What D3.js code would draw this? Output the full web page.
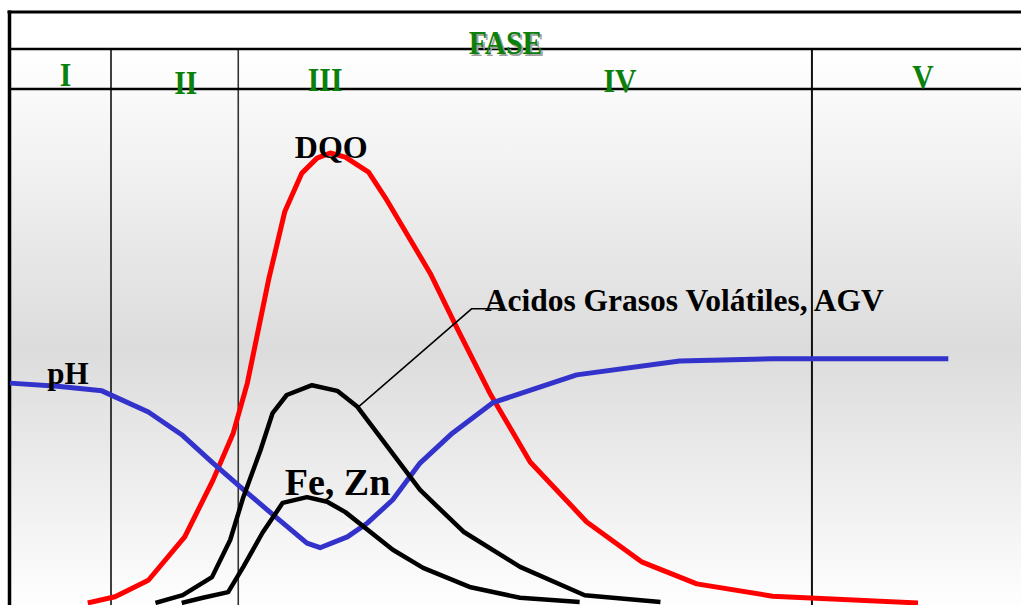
<!DOCTYPE html>
<html>
<head>
<meta charset="utf-8">
<script src="https://cdn.jsdelivr.net/npm/d3@7/dist/d3.min.js"></script>
<style>
  html, body { margin: 0; padding: 0; background: #ffffff; }
  svg { display: block; }
  text { font-family: "Liberation Serif", "Times New Roman", serif; font-weight: bold; }
</style>
</head>
<body>
<svg id="chart" width="1021" height="605"></svg>
<script>
// ---- Data (abstract units: x = time 0..100, y = relative level 0..100) ----
const phaseNames = ["I", "II", "III", "IV", "V"];
const phaseBounds = [10, 22.6, 79.4];          // boundaries between phases
const headerTitle = "FASE";

const dqo = [[7.7,0.4],[10.4,1.6],[13.7,4.8],[17.3,13.2],[20.1,24.2],[22.1,33.3],[23.5,43.0],
  [25.6,63.0],[27.2,76.2],[28.9,83.7],[30.4,86.6],[31.7,87.6],[33.2,86.8],[35.5,83.9],
  [37.3,78.5],[41.6,64.3],[44.1,54.3],[47.5,41.1],[51.5,27.7],[57.1,16.1],[62.6,8.3],
  [68.0,4.1],[75.5,1.7],[89.9,0.4]];
const ph = [[0,43.0],[4.7,42.4],[9.1,41.5],[13.7,37.4],[17.0,33.0],[20.1,27.5],[22.8,22.9],
  [25.5,18.4],[29.4,12.0],[30.7,11.1],[33.4,13.2],[35.4,15.9],[37.9,20.4],[40.6,27.5],
  [43.8,33.3],[47.8,39.2],[56.1,44.6],[66.3,47.3],[75.5,47.7],[92.9,47.7]];
const agv = [[14.4,0.4],[17.1,1.9],[20.0,5.4],[21.8,12.6],[23.1,20.9],[24.8,30.0],[26.0,37.2],
  [27.4,40.7],[29.9,42.6],[32.4,41.5],[34.4,38.4],[40.6,22.3],[44.9,14.2],[50.5,7.4],
  [56.9,1.9],[64.4,0.6]];
const feZn = [[17.0,0.4],[19.1,1.4],[21.6,2.5],[23.1,7.4],[25.0,14.0],[27.0,19.8],[29.4,20.9],
  [31.4,20.0],[33.2,18.0],[37.9,10.7],[40.9,7.2],[45.5,3.5],[50.5,1.4],[56.4,0.6]];

const seriesLabels = ["DQO", "pH", "Acidos Grasos Volátiles, AGV", "Fe, Zn"];

// ---- Layout ----
const W = 1021, H = 605;
const frameLeft = 9.5, frameTop = 12, titleBottom = 49, phaseBottom = 89;
const x = d3.scaleLinear().domain([0, 100]).range([10, 1020]);
const y = d3.scaleLinear().domain([0, 100]).range([605, 89]);

const svg = d3.select("#chart");
const defs = svg.append("defs");
const grad = defs.append("linearGradient").attr("id", "bg")
  .attr("x1", 0).attr("y1", 0).attr("x2", 0).attr("y2", 1);
grad.append("stop").attr("offset", "0").attr("stop-color", "#ffffff");
grad.append("stop").attr("offset", "0.54").attr("stop-color", "#dcdcdc");
grad.append("stop").attr("offset", "1").attr("stop-color", "#fefefe");

// background
svg.append("rect").attr("x", frameLeft).attr("y", titleBottom)
  .attr("width", W - frameLeft).attr("height", H - titleBottom)
  .attr("fill", "url(#bg)");

// phase separators
const sepStyles = [{c:"#000", w:1.5}, {c:"#333", w:1.6}, {c:"#111", w:2}];
svg.append("g").selectAll("line").data(phaseBounds).join("line")
  .attr("x1", d => x(d)).attr("x2", d => x(d))
  .attr("y1", titleBottom).attr("y2", H)
  .attr("stroke", (d, i) => sepStyles[i].c)
  .attr("stroke-width", (d, i) => sepStyles[i].w);

// frame lines
const frame = svg.append("g").attr("stroke", "#000").attr("fill", "none");
frame.append("line").attr("x1", frameLeft - 2).attr("x2", W).attr("y1", frameTop).attr("y2", frameTop).attr("stroke-width", 3);
frame.append("line").attr("x1", frameLeft).attr("x2", W).attr("y1", titleBottom).attr("y2", titleBottom).attr("stroke-width", 2.5);
frame.append("line").attr("x1", frameLeft).attr("x2", W).attr("y1", phaseBottom).attr("y2", phaseBottom).attr("stroke-width", 2.5);
frame.append("line").attr("x1", frameLeft).attr("x2", frameLeft).attr("y1", frameTop - 1.5).attr("y2", H).attr("stroke-width", 3.5);

// header title with shadow
const tx = 505.5, ty = 54;
svg.append("text").attr("transform", `translate(${tx + 2},${ty + 2}) scale(0.9,1)`)
  .attr("text-anchor", "middle").attr("font-size", 33).attr("fill", "#a0a0a0").text(headerTitle);
svg.append("text").attr("transform", `translate(${tx},${ty}) scale(0.9,1)`)
  .attr("text-anchor", "middle").attr("font-size", 33).attr("fill", "#0b800b").text(headerTitle);

// phase labels
const phaseLabelPos = [[5.5, 86], [17.4, 94], [31.2, 90.5], [60.4, 92], [90.4, 87.5]];
svg.append("g").selectAll("text").data(phaseNames).join("text")
  .attr("transform", (d, i) => `translate(${x(phaseLabelPos[i][0])},${phaseLabelPos[i][1]}) scale(0.9,1)`)
  .attr("text-anchor", "middle").attr("font-size", 33).attr("fill", "#0b800b")
  .text(d => d);

// curves
const line = d3.line().x(d => x(d[0])).y(d => y(d[1])).curve(d3.curveLinear);
const curves = [
  {data: dqo, color: "#ff0000", w: 5},
  {data: ph, color: "#3333cc", w: 5},
  {data: agv, color: "#000000", w: 4.5},
  {data: feZn, color: "#000000", w: 4.5}
];
svg.append("g").selectAll("path").data(curves).join("path")
  .attr("d", d => line(d.data)).attr("fill", "none")
  .attr("stroke", d => d.color).attr("stroke-width", d => d.w)
  .attr("stroke-linejoin", "round").attr("stroke-linecap", "butt");

// leader for AGV label
const leader = [[34.5, 38.4], [45.7, 57.4], [49.0, 57.4]];
svg.append("path").attr("d", line(leader)).attr("fill", "none")
  .attr("stroke", "#000").attr("stroke-width", 1.5);

// series labels
const labelPos = [
  {u: 28.2, v: 86.6, size: 32},
  {u: 3.7, v: 42.8, size: 31},
  {u: 47.0, v: 57.0, size: 31.5},
  {u: 27.2, v: 21.3, size: 38}
];
svg.append("g").selectAll("text").data(seriesLabels).join("text")
  .attr("x", (d, i) => x(labelPos[i].u)).attr("y", (d, i) => y(labelPos[i].v))
  .attr("font-size", (d, i) => labelPos[i].size).attr("fill", "#000")
  .text(d => d);
</script>
</body>
</html>
